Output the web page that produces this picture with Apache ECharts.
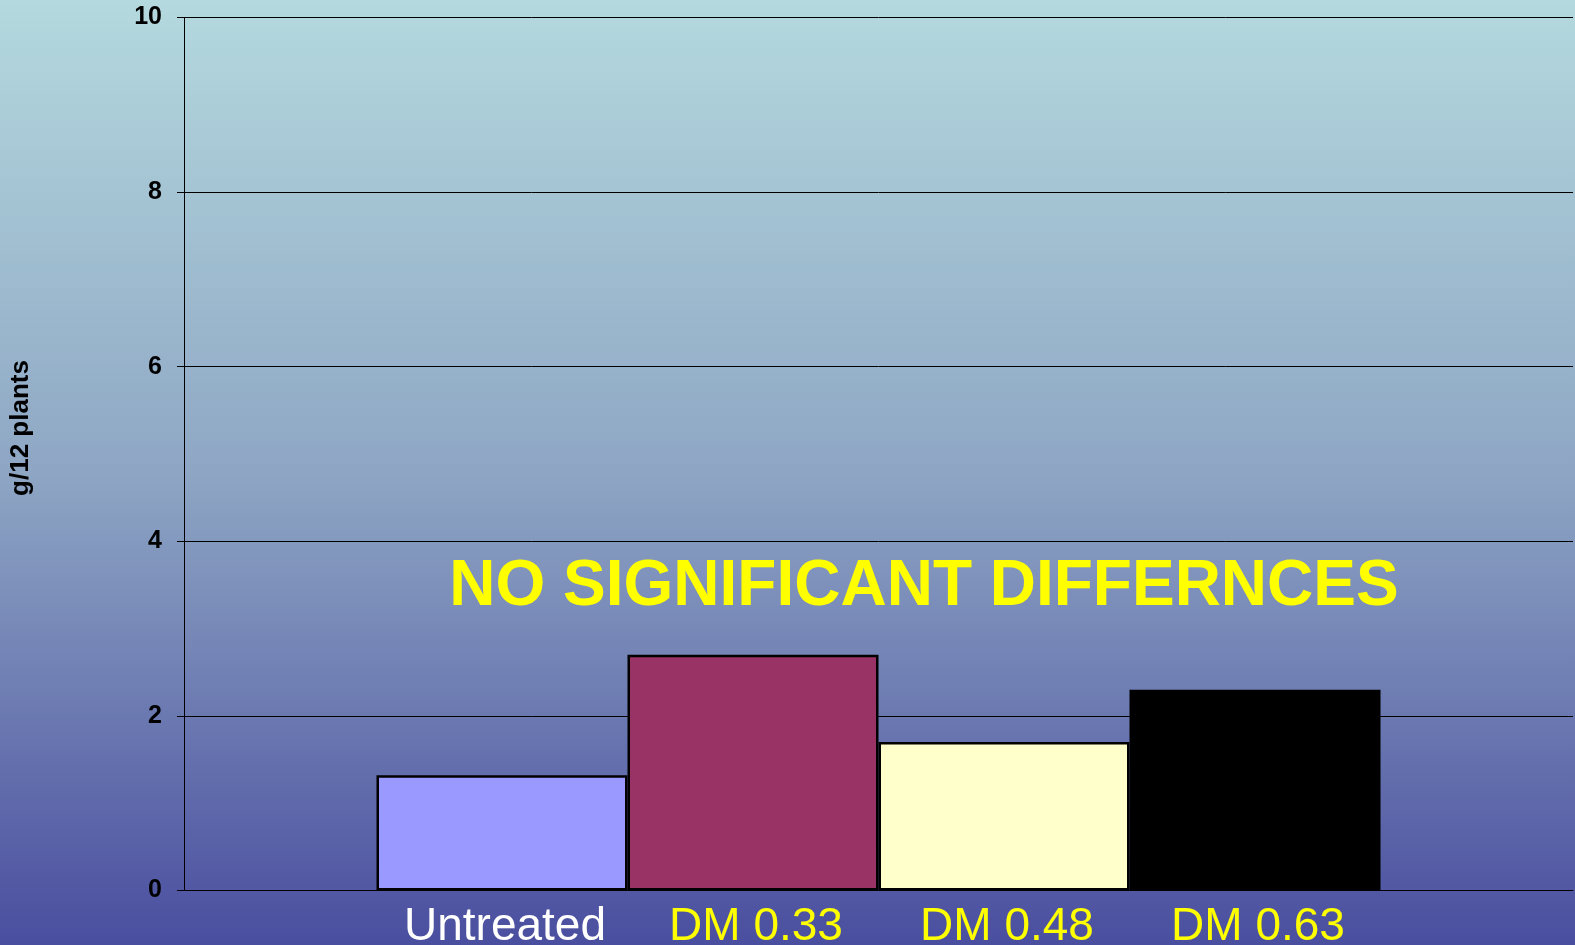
<!DOCTYPE html>
<html>
<head>
<meta charset="utf-8">
<script src="https://cdn.jsdelivr.net/npm/echarts@6/dist/echarts.min.js"></script>
<style>
html,body{margin:0;padding:0;}
#chart{width:1575px;height:945px;}
</style>
</head>
<body>
<div id="chart"></div>
<script>
var categories = ['Untreated', 'DM 0.33', 'DM 0.48', 'DM 0.63'];
var values = [1.32, 2.70, 1.70, 2.30];
var barColors = ['#9999ff', '#993366', '#ffffcc', '#000000'];
var labelColors = ['#ffffff', '#ffff00', '#ffff00', '#ffff00'];
var yTicks = [0, 2, 4, 6, 8, 10];
var yAxisName = 'g/12 plants';
var annotation = 'NO SIGNIFICANT DIFFERNCES';

var chart = echarts.init(document.getElementById('chart'));
var series = categories.map(function (name, i) {
  return {
    name: name,
    type: 'bar',
    data: [values[i]],
    barWidth: 251,
    barGap: '0%',
    itemStyle: { color: barColors[i], borderColor: '#000', borderWidth: 2.5 },
    label: {
      show: true,
      position: 'bottom',
      distance: 14,
      offset: [3, 0],
      formatter: '{a}',
      color: labelColors[i],
      fontFamily: 'Liberation Sans, Arial, sans-serif',
      fontSize: 46
    },
    animation: false
  };
});

chart.setOption({
  animation: false,
  backgroundColor: {
    type: 'linear', x: 0, y: 0, x2: 0, y2: 1,
    colorStops: [
      { offset: 0, color: '#b4d9de' },
      { offset: 0.5, color: '#8ea6c4' },
      { offset: 1, color: '#4a4e9f' }
    ]
  },
  grid: { left: 184, right: 2, top: 17.5, bottom: 54.5, containLabel: false },
  xAxis: {
    type: 'category',
    data: ['g'],
    axisLine: { show: true, lineStyle: { color: '#000', width: 1 } },
    axisTick: { show: false },
    axisLabel: { show: false },
    splitLine: { show: false }
  },
  yAxis: {
    type: 'value',
    min: yTicks[0],
    max: yTicks[yTicks.length - 1],
    interval: 2,
    name: yAxisName,
    nameLocation: 'middle',
    nameGap: 150,
    nameRotate: 90,
    nameTextStyle: {
      color: '#000', fontWeight: 'bold', fontSize: 26,
      fontFamily: 'Liberation Sans, Arial, sans-serif',
      padding: [0, 0, 0, 52]
    },
    axisLine: { show: true, lineStyle: { color: '#000', width: 1 } },
    axisTick: { show: true, length: 7, lineStyle: { color: '#000' } },
    axisLabel: {
      color: '#000', fontWeight: 'bold', fontSize: 25, margin: 22,
      fontFamily: 'Liberation Sans, Arial, sans-serif'
    },
    splitLine: { show: true, lineStyle: { color: '#000', width: 1 } }
  },
  graphic: [{
    type: 'text',
    x: 924,
    y: 587,
    style: {
      text: annotation,
      fill: '#ffff00',
      fontSize: 64,
      fontWeight: 'bold',
      fontFamily: 'Liberation Sans, Arial, sans-serif',
      align: 'center',
      verticalAlign: 'middle',
      textAlign: 'center',
      textVerticalAlign: 'middle'
    }
  }],
  series: series
});
</script>
</body>
</html>
